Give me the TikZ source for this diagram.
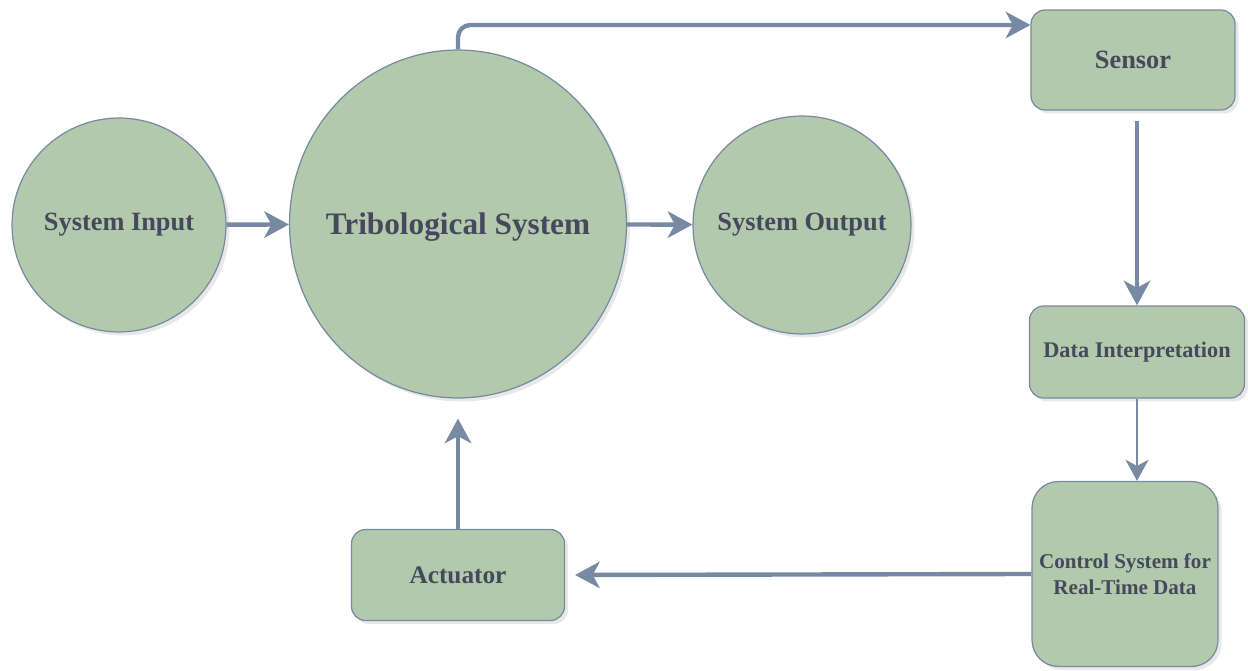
\documentclass[tikz,border=0pt]{standalone}
\usepackage{fontspec}
\setmainfont{Liberation Serif}
\usetikzlibrary{shapes.geometric, arrows.meta, shadows}

\definecolor{sagefill}{HTML}{B2C9AB}
\definecolor{slateline}{HTML}{788AA3}
\definecolor{inktext}{HTML}{46495D}

\tikzset{
  block/.style={draw=slateline, fill=sagefill, line width=0.7pt,
    text=inktext, font=\bfseries, align=center, inner sep=0pt,
    drop shadow={opacity=0.18, shadow xshift=2pt, shadow yshift=-2pt}},
  roundnode/.style={block, circle},
  boxnode/.style={block, rectangle},
  flow/.style={draw=slateline, line width=2.5pt,
    -{Stealth[length=14pt, width=15pt, inset=4pt]}},
  thinflow/.style={draw=slateline, line width=1.6pt,
    -{Stealth[length=12pt, width=13pt, inset=3.5pt]}}
}

\begin{document}
\begin{tikzpicture}[x=0.02cm, y=-0.02cm]
\useasboundingbox (0,0) rectangle (1248,671);

\node[roundnode, minimum size=4.28cm, font=\fontsize{15}{18}\selectfont\bfseries]
(input) at (119, 225) {System Input};

\node[block, ellipse, minimum width=6.74cm, minimum height=6.96cm,
      label={[text=inktext, font=\fontsize{17.8}{21}\selectfont\bfseries,
              yshift=-2pt]center:Tribological System}]
(trib) at (458, 224) {};

\node[roundnode, minimum size=4.36cm, font=\fontsize{15}{18}\selectfont\bfseries]
(output) at (802, 225) {System Output};

\node[boxnode, minimum width=4.08cm, minimum height=2.0cm, rounded corners=8pt,
      font=\fontsize{15}{18}\selectfont\bfseries]
(sensor) at (1133, 60) {Sensor};

\node[boxnode, minimum width=4.3cm, minimum height=1.84cm, rounded corners=8pt,
      font=\fontsize{12.7}{15}\selectfont\bfseries]
(data) at (1137, 352) {Data Interpretation};

\node[boxnode, minimum width=3.72cm, minimum height=3.7cm, rounded corners=15pt,
      font=\fontsize{12}{14.5}\selectfont\bfseries]
(control) at (1125, 574) {Control System for\\Real-Time Data};

\node[boxnode, minimum width=4.26cm, minimum height=1.82cm, rounded corners=8pt,
      font=\fontsize{14.4}{17}\selectfont\bfseries]
(actuator) at (458, 575) {Actuator};

\draw[flow] (input) -- (trib);
\draw[flow] (trib) -- (output);
\draw[flow, rounded corners=7pt] (trib.north) |- ([yshift=0.7cm]sensor.west);
\draw[flow, shorten <=0.2cm] (sensor.south -| data.north) -- (data.north);
\draw[thinflow] (data.south) -- (data.south |- control.north);
\draw[flow, shorten >=0.2cm] (control.west) -- (actuator.east);
\draw[flow, shorten >=0.4cm] (actuator.north) -- (trib.south);

\end{tikzpicture}
\end{document}
